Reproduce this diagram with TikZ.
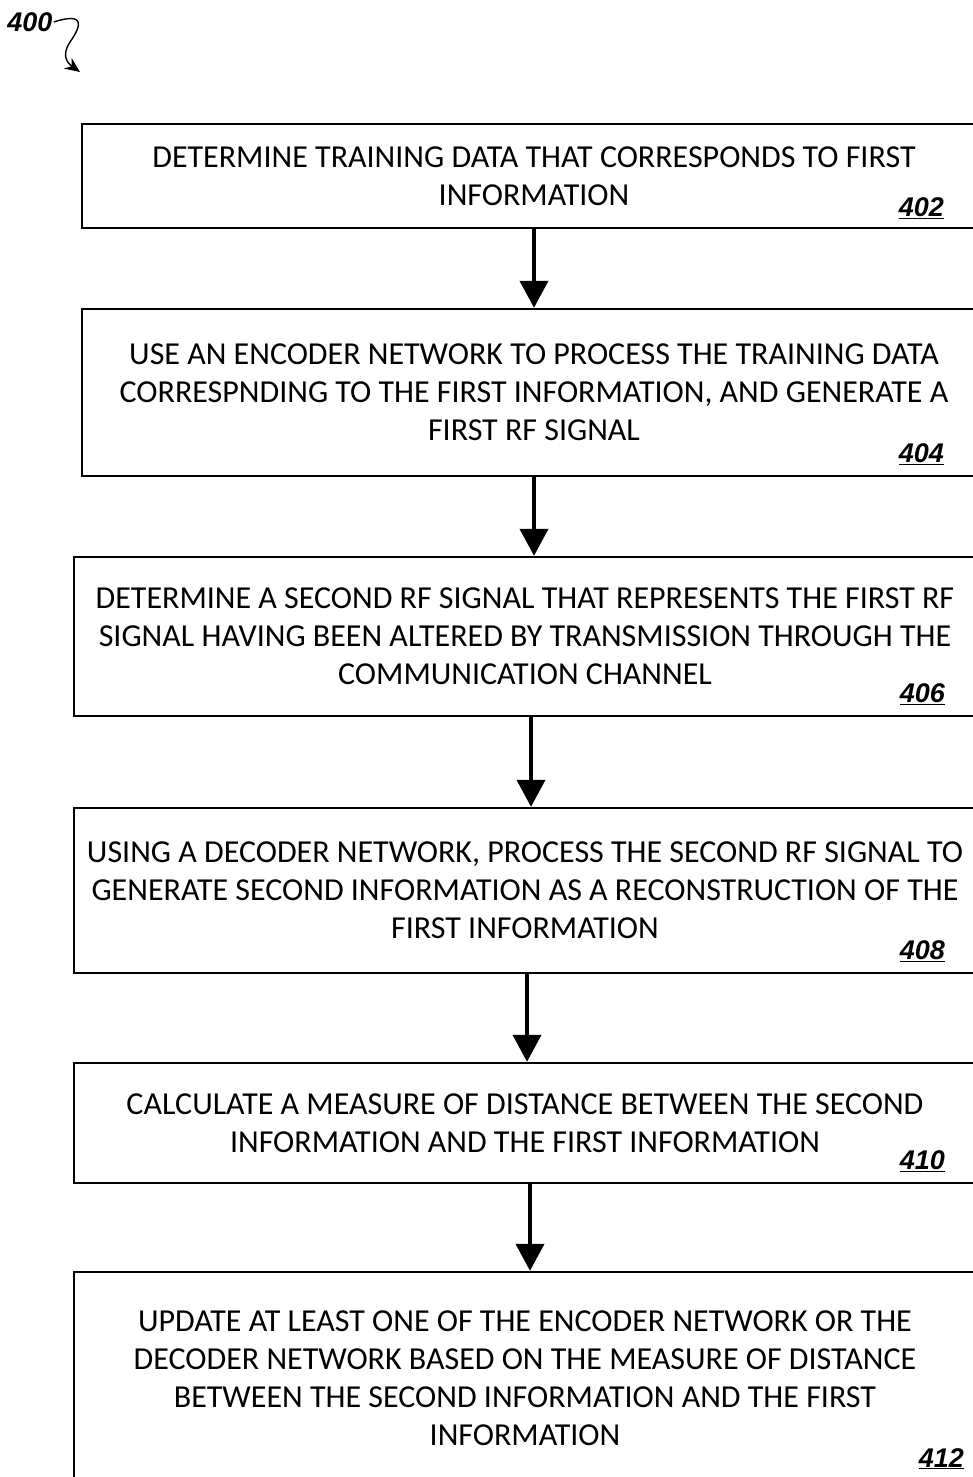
\documentclass[tikz,border=0pt]{standalone}
\usepackage{fontspec}
\setmainfont{Carlito}
\newfontfamily\refnumfont{Liberation Sans}
\usetikzlibrary{arrows.meta,positioning,calc}

\tikzset{
  stepbox/.style={draw, line width=2.4pt, align=center, inner sep=0pt,
    font=\fontsize{32}{38}\selectfont},
  refnum/.style={font=\refnumfont\bfseries\itshape\fontsize{27}{30}\selectfont,
    inner sep=0pt, anchor=south east},
  flow/.style={line width=4pt, -{Triangle[width=28pt,length=27pt]}}
}

\begin{document}
\begin{tikzpicture}[x=1pt,y=-1pt]
\useasboundingbox (0,0) rectangle (973,1477);

\node[font=\refnumfont\bfseries\itshape\fontsize{27}{30}\selectfont, inner sep=1pt] (fig) at (30,22) {400};
\draw[line width=1.4pt, -{Stealth[length=15pt,width=13pt]}] (fig.east)
  .. controls (85,12) and (82,25) .. (70,42)
  .. controls (62,54) and (66,62) .. (80,72);

\node[stepbox, minimum width=904pt, minimum height=104pt] (s402) at (534,176)
  {DETERMINE TRAINING DATA THAT CORRESPONDS TO FIRST\\INFORMATION};
\node[stepbox, minimum width=904pt, minimum height=167pt] (s404) at (534,392.5)
  {USE AN ENCODER NETWORK TO PROCESS THE TRAINING DATA\\CORRESPNDING TO THE FIRST INFORMATION, AND GENERATE A\\FIRST RF SIGNAL};
\node[stepbox, minimum width=902pt, minimum height=159pt] (s406) at (525,636.5)
  {DETERMINE A SECOND RF SIGNAL THAT REPRESENTS THE FIRST RF\\SIGNAL HAVING BEEN ALTERED BY TRANSMISSION THROUGH THE\\COMMUNICATION CHANNEL};
\node[stepbox, minimum width=902pt, minimum height=165pt] (s408) at (525,890.5)
  {USING A DECODER NETWORK, PROCESS THE SECOND RF SIGNAL TO\\GENERATE SECOND INFORMATION AS A RECONSTRUCTION OF THE\\FIRST INFORMATION};
\node[stepbox, minimum width=902pt, minimum height=120pt] (s410) at (525,1123)
  {CALCULATE A MEASURE OF DISTANCE BETWEEN THE SECOND\\INFORMATION AND THE FIRST INFORMATION};
\node[stepbox, minimum width=902pt, minimum height=212pt] (s412) at (525,1378)
  {UPDATE AT LEAST ONE OF THE ENCODER NETWORK OR THE\\DECODER NETWORK BASED ON THE MEASURE OF DISTANCE\\BETWEEN THE SECOND INFORMATION AND THE FIRST\\INFORMATION};

\node[refnum] (n402) at ([xshift=-43pt,yshift=10pt]s402.south east) {\underline{402}};
\node[refnum] (n404) at ([xshift=-43pt,yshift=12pt]s404.south east) {\underline{404}};
\node[refnum] (n406) at ([xshift=-32pt,yshift=12pt]s406.south east) {\underline{406}};
\node[refnum] (n408) at ([xshift=-32pt,yshift=12pt]s408.south east) {\underline{408}};
\node[refnum] (n410) at ([xshift=-32pt,yshift=12pt]s410.south east) {\underline{410}};
\node[refnum] (n412) at ([xshift=-13pt,yshift=16pt]s412.south east) {\underline{412}};

\draw[flow] (s402.south) -- (s404.north);
\draw[flow] (s404.south) -- (s404.south |- s406.north);
\draw[flow] ([xshift=6pt]s406.south) -- ([xshift=6pt]s408.north);
\draw[flow] ([xshift=2pt]s408.south) -- ([xshift=2pt]s410.north);
\draw[flow] ([xshift=5pt]s410.south) -- ([xshift=5pt]s412.north);
\end{tikzpicture}
\end{document}
